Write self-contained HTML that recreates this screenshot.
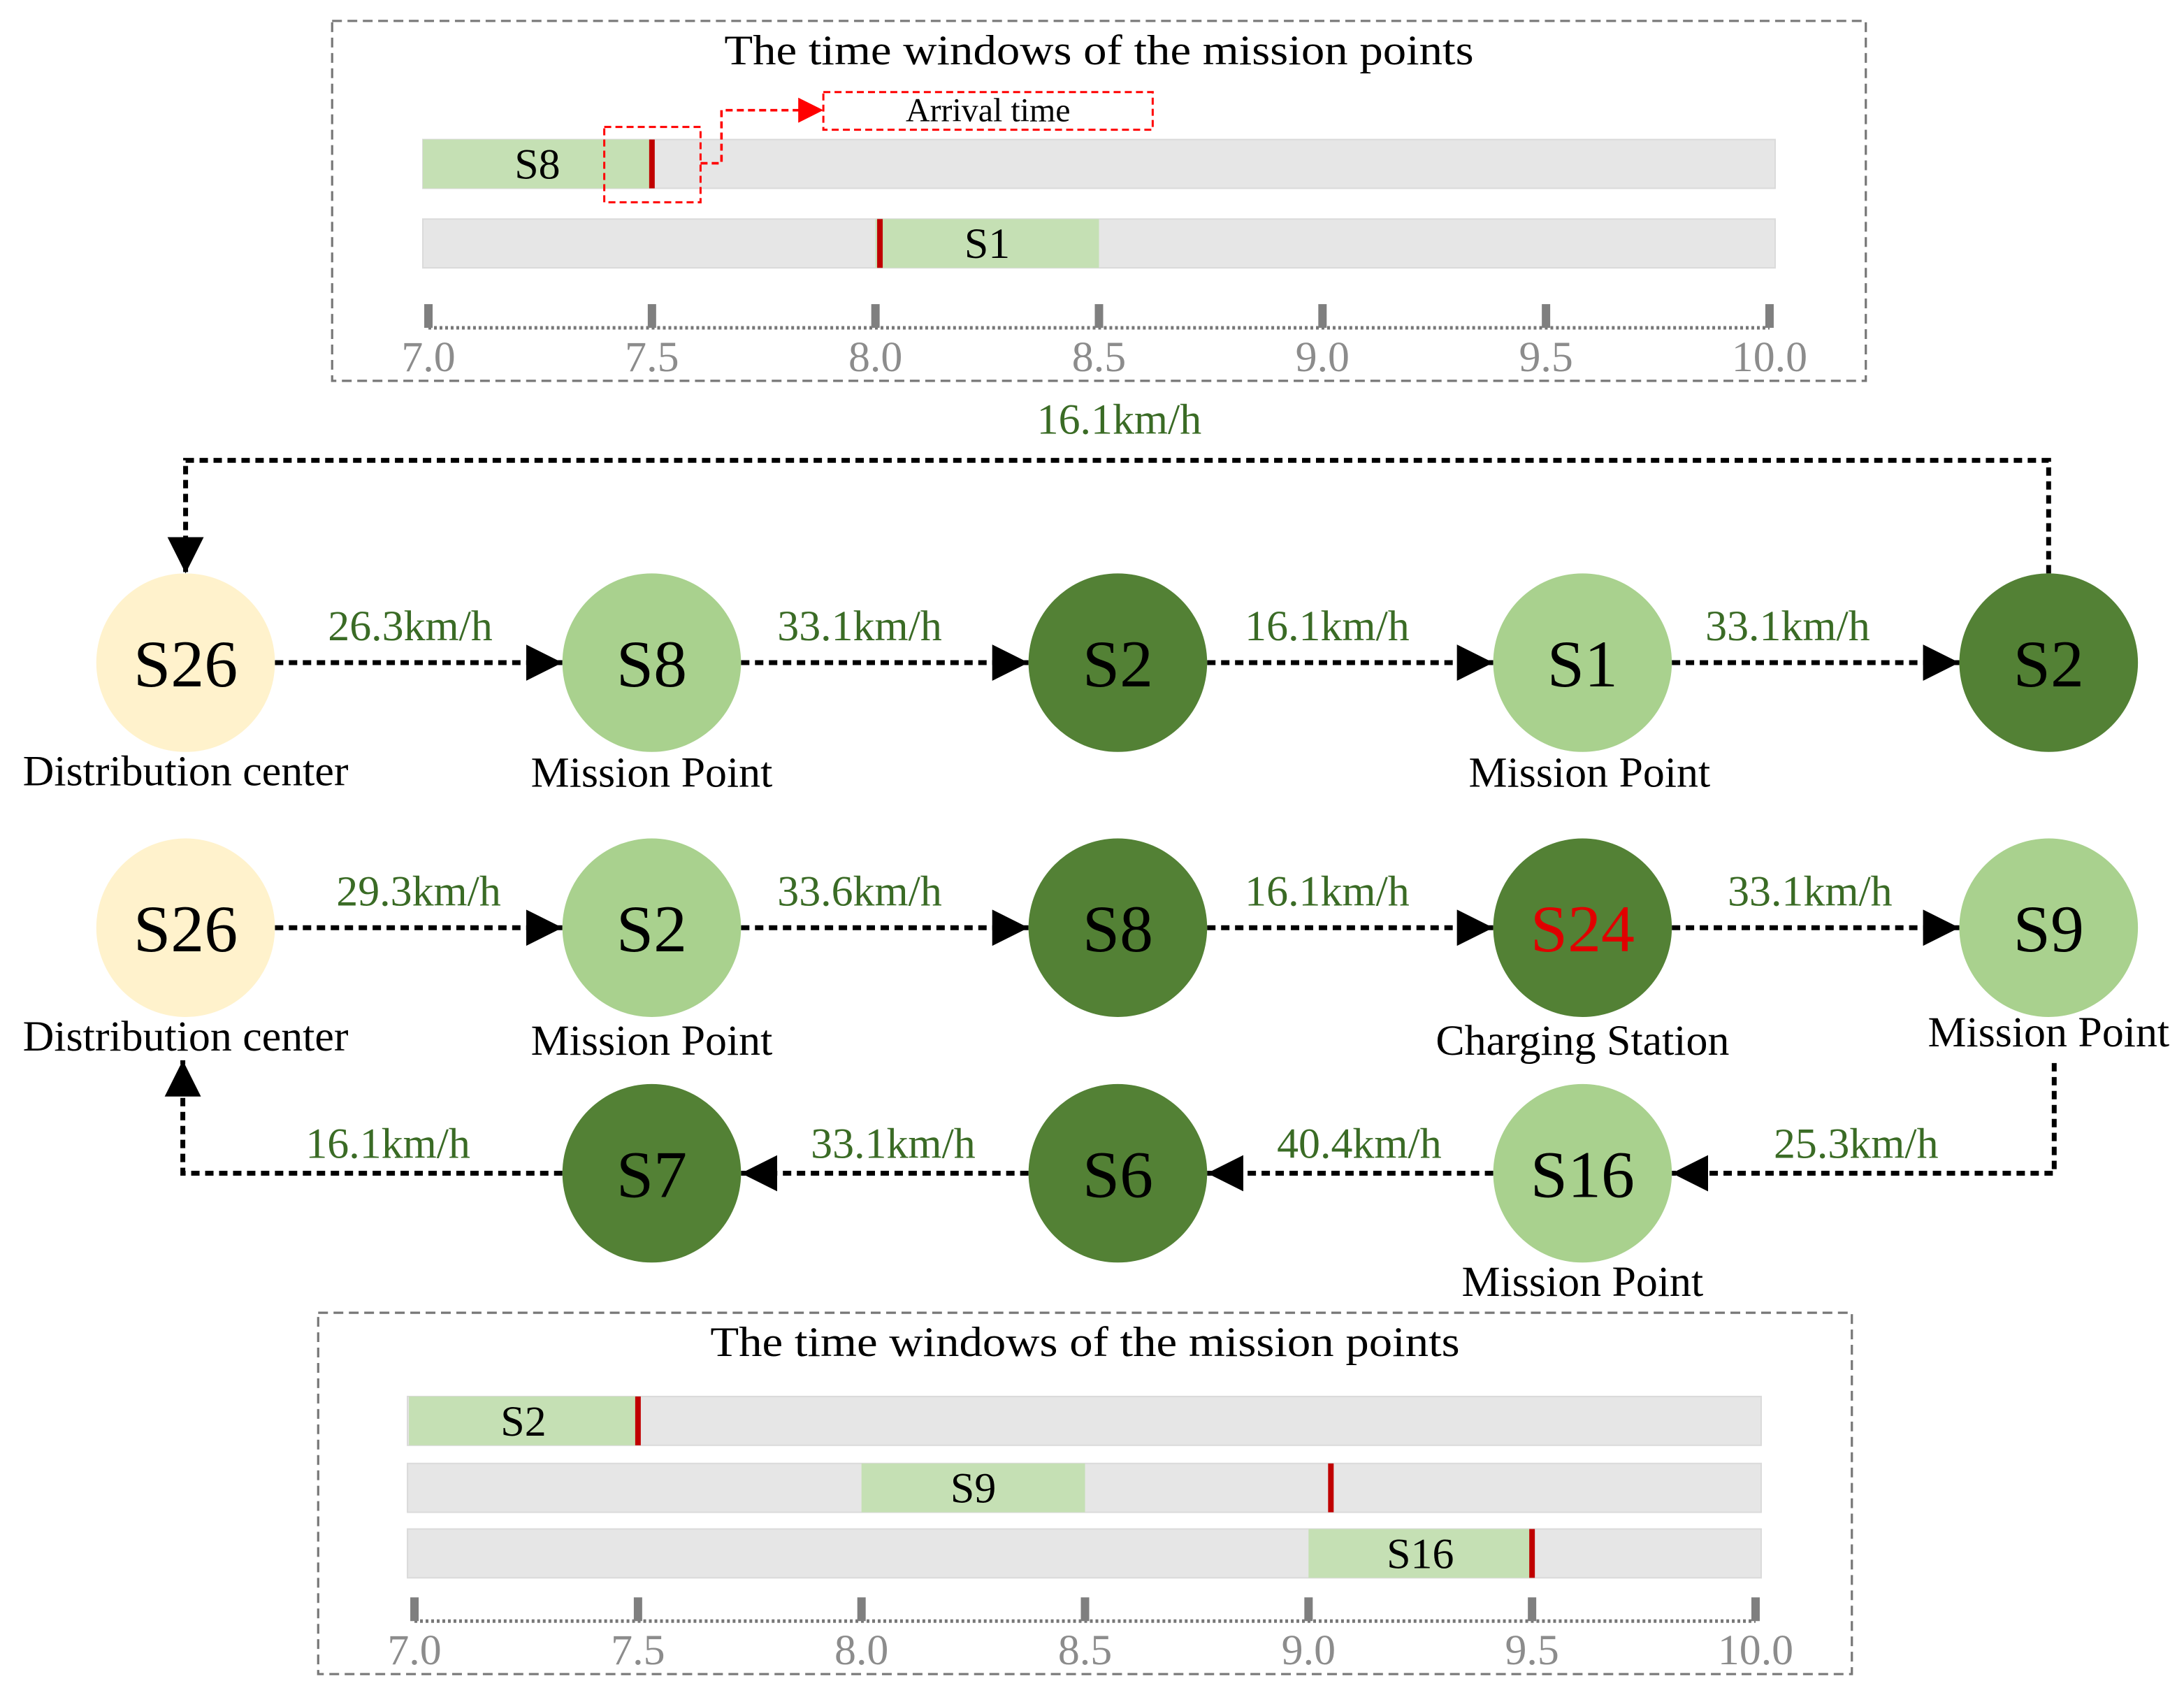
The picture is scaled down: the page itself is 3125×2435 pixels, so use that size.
<!DOCTYPE html>
<html><head><meta charset="utf-8">
<style>html,body{margin:0;padding:0;background:#fff}svg{display:block}text{font-family:"Liberation Serif",serif}</style>
</head><body>
<svg id="c" width="3125" height="2435" viewBox="0 0 1565 1220" preserveAspectRatio="none" xmlns="http://www.w3.org/2000/svg">
<defs>
<marker id="ah" markerWidth="26" markerHeight="26" refX="26" refY="13" orient="auto" markerUnits="userSpaceOnUse" viewBox="0 0 26 26"><path d="M0,0 L26,13 L0,26z" fill="#000"/></marker>
</defs>
<g id="g"></g>
</svg>
<script>
// top panel data
const topNames=["S8","S1"];
const topStart=[7.0,8.0];
const topEnd=[7.5,8.5];
const topArrival=[7.5,8.01];
// bottom panel data
const botNames=["S2","S9","S16"];
const botStart=[7.0,8.0,9.0];
const botEnd=[7.5,8.5,9.5];
const botArrival=[7.5,9.05,9.5];
const tickLabels=["7.0","7.5","8.0","8.5","9.0","9.5","10.0"];
const tickVals=[7.0,7.5,8.0,8.5,9.0,9.5,10.0];
// route data
const row1Names=["S26","S8","S2","S1","S2"];
const row1Speeds=["26.3km/h","33.1km/h","16.1km/h","33.1km/h"];
const row2Names=["S26","S2","S8","S24","S9"];
const row2Speeds=["29.3km/h","33.6km/h","16.1km/h","33.1km/h"];
const row3Names=["S16","S6","S7"];
const row3Speeds=["25.3km/h","40.4km/h","33.1km/h","16.1km/h"];

const NS="http://www.w3.org/2000/svg";
const G=document.getElementById('g');
function mk(t,a,txt){const e=document.createElementNS(NS,t);for(const k in a)e.setAttribute(k,a[k]);if(txt!==undefined)e.textContent=txt;G.appendChild(e);return e;}

function panel(px,py,pw,ph,titleY,barX0,barX1,ax0,ax1,barYs,names,st,en,arr,axY,pname){
  let e=mk('rect',{x:px,y:py,width:pw,height:ph,fill:'none',stroke:'#777','stroke-width':1.6,'stroke-dasharray':'7 4'});
  
  e=mk('text',{x:px+pw/2,y:titleY,'font-size':30,'text-anchor':'middle',fill:'#000',textLength:537,lengthAdjust:'spacingAndGlyphs'},'The time windows of the mission points');
  
  const sx=v=>ax0+(v-7)*(ax1-ax0)/3;
  names.forEach((n,i)=>{
    const y=barYs[i];
    let r=mk('rect',{x:barX0,y:y,width:barX1-barX0,height:35,fill:'#e6e6e6',stroke:'#dadada','stroke-width':1});
    
    const gx0=Math.max(barX0,sx(st[i])-(st[i]==7?4:0)), gx1=sx(en[i]);
    r=mk('rect',{x:gx0,y:y,width:gx1-gx0,height:35,fill:'#c5e0b4'});
    
    r=mk('text',{x:(gx0+gx1)/2,y:y+28,'font-size':31,'text-anchor':'middle',fill:'#000'},n);
    
    r=mk('rect',{x:sx(arr[i])-2,y:y,width:4,height:35,fill:'#c00000'});
    
  });
  let l=mk('line',{x1:ax0,y1:axY,x2:ax1,y2:axY,stroke:'#777','stroke-width':2.5,'stroke-dasharray':'2 2'});
  
  tickVals.forEach((v,i)=>{
    let t=mk('rect',{x:sx(v)-3,y:axY-17,width:6,height:17,fill:'#7f7f7f'});
    
    t=mk('text',{x:sx(v),y:axY+31,'font-size':31,'text-anchor':'middle',fill:'#8c8c8c'},tickLabels[i]);
    
  });
}
panel(238,15,1099,258,46,303,1272,307,1268,[100,157],topNames,topStart,topEnd,topArrival,235,'top-panel');
panel(228,941,1099,259,972,292,1262,297,1258,[1001,1049,1096],botNames,botStart,botEnd,botArrival,1162,'bottom-panel');

// arrival callout
let c=mk('rect',{x:433,y:91,width:69,height:54,fill:'none',stroke:'#ff0000','stroke-width':1.5,'stroke-dasharray':'5 3'});

c=mk('polyline',{points:'502,117 517,117 517,79 575,79',fill:'none',stroke:'#ff0000','stroke-width':1.8,'stroke-dasharray':'5 3'});

c=mk('path',{d:'M572,70 L590,79 L572,88z',fill:'#ff0000'});

c=mk('rect',{x:590,y:66,width:236,height:27,fill:'none',stroke:'#ff0000','stroke-width':1.5,'stroke-dasharray':'5 3'});

c=mk('text',{x:708,y:87,'font-size':24,'text-anchor':'middle',fill:'#000'},'Arrival time');


const cols=[133,467,801,1134,1468];
const R=64;
const fills={light:'#a9d18e',dark:'#538135',base:'#fff2cc'};
function node(x,y,n,kind,red){
  let e=mk('circle',{cx:x,cy:y,r:R,fill:fills[kind]});
  
  e=mk('text',{x:x,y:y+17,'font-size':48,'text-anchor':'middle',fill:red?'#e00000':'#000'},n);
  
}
function sub(x,y,t){let e=mk('text',{x:x,y:y,'font-size':31,'text-anchor':'middle',fill:'#000'},t);
  }
function edge(pts,name){let e=mk('polyline',{points:pts,fill:'none',stroke:'#000','stroke-width':3.5,'stroke-dasharray':'6 4','marker-end':'url(#ah)'});
  }
function speed(x,y,t){let e=mk('text',{x:x,y:y,'font-size':31,'text-anchor':'middle',fill:'#3a6b25'},t);
  }

// row 1
const k1=['base','light','dark','light','dark'];
const s1x=[294,616,951,1281];
for(let i=0;i<4;i++){edge(`${cols[i]+R},475 ${cols[i+1]-R},475`,'route1-edge');speed(s1x[i],459,row1Speeds[i]);}
edge(`1468,411 1468,330 133,330 133,${475-R}`,'route1-return-edge');
speed(802,311,'16.1km/h');
row1Names.forEach((n,i)=>node(cols[i],475,n,k1[i]));
sub(133,563,'Distribution center');sub(467,564,'Mission Point');sub(1139,564,'Mission Point');

// row 2
const k2=['base','light','dark','dark','light'];
const s2x=[300,616,951,1297];
for(let i=0;i<4;i++){edge(`${cols[i]+R},665 ${cols[i+1]-R},665`,'route2-edge');speed(s2x[i],649,row2Speeds[i]);}
row2Names.forEach((n,i)=>node(cols[i],665,n,k2[i],n==='S24'));
sub(133,753,'Distribution center');sub(467,756,'Mission Point');sub(1134,756,'Charging Station');sub(1468,750,'Mission Point');

// row 3
const r3x=[1134,801,467];
const k3=['light','dark','dark'];
const s3x=[1330,974,640,278];
edge(`1472,762 1472,841 ${1134+R},841`,'route2-edge');
edge(`${1134-R},841 ${801+R},841`,'route2-edge');
edge(`${801-R},841 ${467+R},841`,'route2-edge');
edge(`${467-R},841 131,841 131,760`,'route2-return-edge');
for(let i=0;i<4;i++)speed(s3x[i],830,row3Speeds[i]);
row3Names.forEach((n,i)=>node(r3x[i],841,n,k3[i]));
sub(1134,929,'Mission Point');
</script>
</body></html>
